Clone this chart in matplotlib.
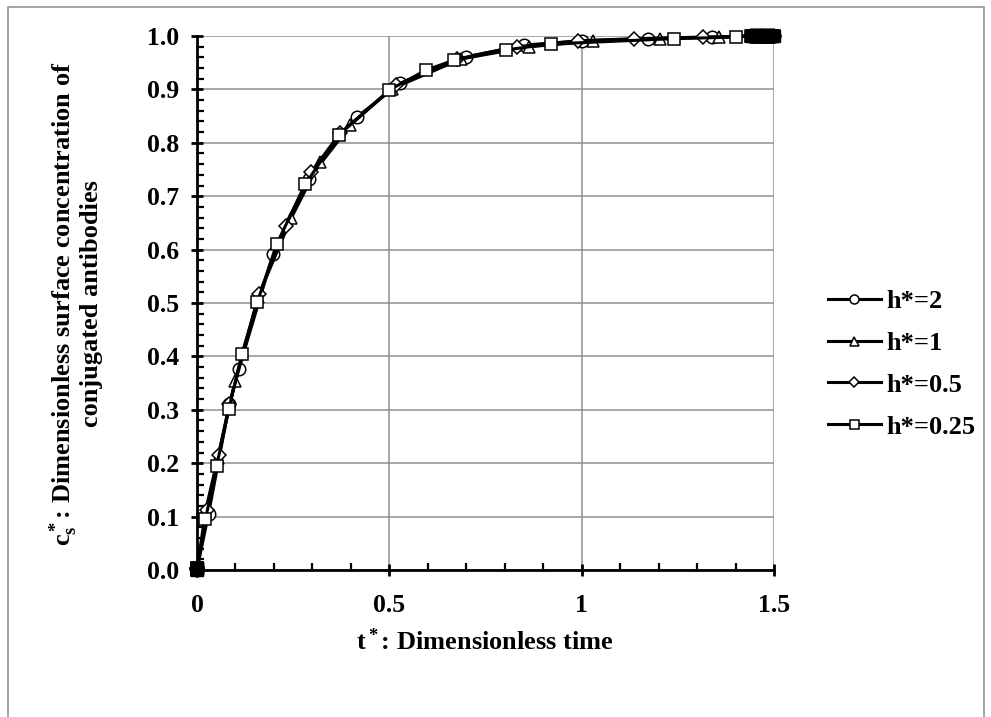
import matplotlib
matplotlib.use("Agg")
import matplotlib.pyplot as plt
from matplotlib.lines import Line2D
from matplotlib.patches import Rectangle
from matplotlib.ticker import MultipleLocator

plt.rcParams["font.family"] = ["Liberation Serif", "DejaVu Serif"]
plt.rcParams["font.weight"] = "bold"
plt.rcParams["mathtext.fontset"] = "custom"
plt.rcParams["mathtext.rm"] = "Liberation Serif:bold"
plt.rcParams["mathtext.it"] = "Liberation Serif:bold"
plt.rcParams["mathtext.bf"] = "Liberation Serif:bold"

# values
# the curves start and end with tightly packed points (they look like solid blocks)
start_t = [0, 0.0003, 0.0006, 0.001]
start_c = [0, 0.0015, 0.003, 0.0045]
end_t = [1.44, 1.445, 1.45, 1.455, 1.46, 1.465, 1.47, 1.475, 1.48, 1.485, 1.49, 1.495, 1.5]
end_c = [1.0] * len(end_t)

t_h2 = [0.03, 0.084, 0.109, 0.198, 0.291, 0.415, 0.529, 0.699, 0.851, 1.0, 1.173, 1.338]
c_h2 = [0.105, 0.31, 0.377, 0.592, 0.733, 0.848, 0.912, 0.961, 0.983, 0.991, 0.995, 0.998]

t_h1 = [0.022, 0.054, 0.099, 0.159, 0.245, 0.319, 0.398, 0.506, 0.687, 0.864, 1.03, 1.203, 1.356]
c_h1 = [0.11, 0.21, 0.354, 0.512, 0.659, 0.764, 0.833, 0.901, 0.957, 0.98, 0.99, 0.995, 0.998]

t_h05 = [0.027, 0.056, 0.084, 0.162, 0.231, 0.297, 0.372, 0.517, 0.677, 0.831, 0.991, 1.137, 1.315]
c_h05 = [0.112, 0.215, 0.31, 0.516, 0.645, 0.745, 0.818, 0.908, 0.957, 0.98, 0.991, 0.995, 0.998]

t_h025 = [0.022, 0.051, 0.083, 0.117, 0.157, 0.207, 0.281, 0.368, 0.5, 0.595, 0.669, 0.803, 0.919,
          1.239, 1.401]
c_h025 = [0.095, 0.195, 0.302, 0.405, 0.502, 0.61, 0.722, 0.814, 0.899, 0.936, 0.955, 0.974, 0.985,
          0.995, 0.998]

series = [
    ("h*=2", t_h2, c_h2, "o"),
    ("h*=1", t_h1, c_h1, "^"),
    ("h*=0.5", t_h05, c_h05, "D"),
    ("h*=0.25", t_h025, c_h025, "s"),
]

fig = plt.figure(figsize=(9.91, 7.17), dpi=100)
ax = fig.add_axes([197 / 991, 1 - 570 / 717, 577 / 991, 534 / 717])

# outer chart border (bottom edge falls outside the picture)
fig.patches.append(Rectangle((8 / 991, -0.02), 976 / 991, 1 - 7 / 717 + 0.02,
                             transform=fig.transFigure, fill=False,
                             edgecolor="#8c8c8c", linewidth=1.1))

handles = []
for label, t, c, m in series:
    ms = 7.5 if m == "D" else 9
    ax.plot(start_t + t + end_t, start_c + c + end_c, color="black", linewidth=2.2,
            marker=m, markersize=ms, markerfacecolor="white", markeredgecolor="black",
            markeredgewidth=1.1, zorder=3, clip_on=False)
    handles.append(Line2D([], [], color="black", linewidth=2.2, marker=m,
                          markersize=ms * 0.72, markerfacecolor="white",
                          markeredgecolor="black", markeredgewidth=1.1, label=label))

# packed points at both ends merge into solid black blocks
ax.plot(start_t, start_c, linestyle="none", marker="s", markersize=9,
        color="black", zorder=4, clip_on=False)
ax.plot(end_t, end_c, linestyle="none", marker="s", markersize=9,
        color="black", zorder=4, clip_on=False)

ax.set_xlim(0, 1.5)
ax.set_ylim(0, 1.0)
ax.xaxis.set_minor_locator(MultipleLocator(0.1))
ax.yaxis.set_major_locator(MultipleLocator(0.1))
ax.yaxis.set_minor_locator(MultipleLocator(0.02))
ax.set_xticks([0, 0.5, 1.0, 1.5])
ax.set_xticklabels(["0", "0.5", "1", "1.5"])
ax.set_yticklabels([f"{v:.1f}" for v in ax.get_yticks()])

ax.grid(True, which="major", color="#8f8f8f", linewidth=1.1)
ax.set_axisbelow(True)
for s in ["top", "right"]:
    ax.spines[s].set_visible(False)
for s in ["left", "bottom"]:
    ax.spines[s].set_linewidth(2.0)
    ax.spines[s].set_color("black")
    ax.spines[s].set_zorder(4)

ax.tick_params(axis="both", which="major", direction="inout", length=8, width=2.0,
               labelsize=18.5)
ax.tick_params(axis="both", which="minor", direction="in", length=5, width=1.6)
ax.tick_params(axis="x", which="major", pad=13)
ax.tick_params(axis="y", which="major", pad=9)

fig.text(75 / 991, 1 - 304 / 717,
         "c$_s^*$: Dimensionless surface concentration of\nconjugated antibodies",
         rotation=90, ha="center", va="center", multialignment="center",
         fontsize=19, fontweight="bold", linespacing=1.0)
fig.text(485 / 991, 1 - 642 / 717, "t$^*$: Dimensionless time",
         ha="center", va="center", fontsize=19, fontweight="bold")

fig.legend(handles=handles, loc="center left", bbox_to_anchor=(828 / 991, 1 - 364 / 717),
           frameon=False, fontsize=19, handlelength=2.0, handletextpad=0.22,
           labelspacing=0.7, borderpad=0, borderaxespad=0)

fig.savefig("out.png", dpi=100)
